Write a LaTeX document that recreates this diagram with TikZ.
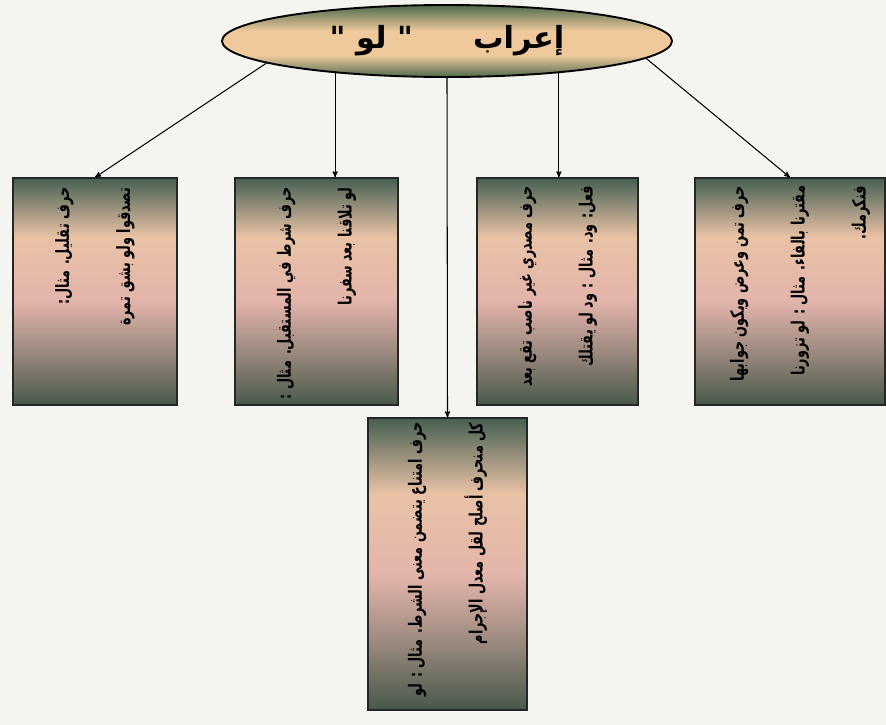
\documentclass[tikz,border=0pt]{standalone}
\usepackage{fontspec}
\newfontfamily\arabicfont[Script=Arabic]{DejaVu Sans}
\newfontfamily\arabicnarrow[Script=Arabic,FakeStretch=0.7]{DejaVu Sans}
\TeXXeTstate=1
\usepackage{xcolor}
\usepackage{tikz}
\usetikzlibrary{arrows}
\usetikzlibrary{shapes.geometric}

\definecolor{boxtop}{HTML}{465F52}
\definecolor{boxlow}{HTML}{48584B}
\definecolor{peach}{HTML}{E9C2A6}
\definecolor{rose}{HTML}{E3B4AB}
\definecolor{ellgreen}{HTML}{4E6A4E}
\definecolor{ellpeach}{HTML}{EFC99C}
\definecolor{paper}{HTML}{F4F4F1}

\pgfdeclareverticalshading{boxfade}{100bp}{color(0bp)=(boxlow); color(25bp)=(boxlow); color(37bp)=(boxlow!45!rose); color(48bp)=(rose); color(62bp)=(peach); color(75bp)=(boxtop); color(100bp)=(boxtop)}
\pgfdeclareverticalshading{ellfade}{100bp}{color(0bp)=(ellgreen); color(25bp)=(ellgreen); color(40bp)=(ellpeach); color(57bp)=(ellpeach); color(75bp)=(ellgreen); color(100bp)=(ellgreen)}

\newcommand{\arl}[1]{\beginR #1\endR}

\tikzset{
  cardbox/.style={draw=black!85, line width=1pt, shading=boxfade, inner sep=0pt},
  cardtext/.style={rotate=90, anchor=east, align=right, inner sep=0pt,
    font=\arabicnarrow\bfseries\fontsize{15.6}{52}\selectfont},
  rootell/.style={ellipse, draw=black, line width=1.6pt, shading=ellfade,
    minimum width=13.5cm, minimum height=2.16cm, inner sep=0pt,
    font=\arabicfont\bfseries\fontsize{26}{30}\selectfont},
  link/.style={black, line width=0.9pt, ->, >=stealth'}
}

\begin{document}
\begin{tikzpicture}[x=0.03cm,y=-0.03cm]
\fill[paper] (0,0) rectangle (886,725);
\useasboundingbox (0,0) rectangle (886,725);

\node[rootell] (title) at (447,41) {\arl{إعراب\hspace{1.8cm}" لو "}};

\node[cardbox, minimum width=4.92cm, minimum height=6.81cm] (b1) at (95,291.5) {};
\node[cardbox, minimum width=4.89cm, minimum height=6.81cm] (b2) at (316.5,291.5) {};
\node[cardbox, minimum width=4.83cm, minimum height=6.81cm] (b3) at (557.5,291.5) {};
\node[cardbox, minimum width=5.70cm, minimum height=6.81cm] (b4) at (790,291.5) {};
\node[cardbox, minimum width=4.77cm, minimum height=8.76cm] (b5) at (447.5,564) {};

\node[cardtext] (t1) at ([yshift=-0.3cm]b1.north)
  {\arl{حرف تقليل. مثال:}\\\arl{تصدقوا ولو بشق تمرة}};
\node[cardtext] (t2) at ([yshift=-0.3cm]b2.north)
  {\arl{حرف شرط في المستقبل. مثال :}\\\arl{لو تلاقنا بعد سفرنا}};
\node[cardtext] (t3) at ([yshift=-0.25cm]b3.north)
  {\arl{حرف مصدري غير ناصب تقع بعد}\\\arl{فعل: ود. مثال : ود لو يقتلك}};
\node[cardtext] (t4) at ([xshift=0.3cm,yshift=-0.25cm]b4.north)
  {\arl{حرف تمن وعرض ويكون جوابها}\\\arl{مقترنا بالفاء. مثال : لو تزورنا}\\\arl{فنكرمك.}};
\node[cardtext] (t5) at ([yshift=-0.15cm]b5.north)
  {\arl{حرف امتناع يتضمن معنى الشرط. مثال : لو}\\\arl{كل منحرف أصلح لقل معدل الإجرام}};

% links from the root
\draw[link] (title.187) -- (b1.north);
\draw[link] (title.196) -- (title.196 |- b2.north);
\draw[link] (title.south) -- (b5.north);
\draw[link] (title.344) -- (title.344 |- b3.north);
\draw[link] (title.355) -- (b4.north);
\end{tikzpicture}
\end{document}
